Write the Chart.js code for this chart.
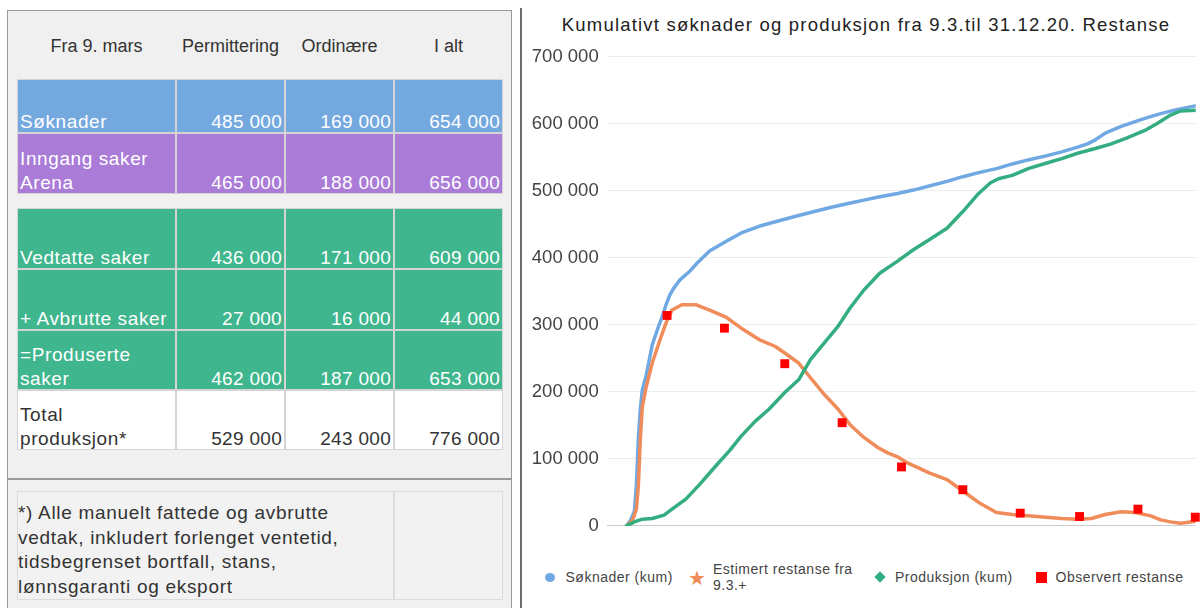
<!DOCTYPE html>
<html>
<head>
<meta charset="utf-8">
<script src="https://cdn.jsdelivr.net/npm/chart.js@4.4.0/dist/chart.umd.min.js"></script>
<style>
    html, body { margin: 0; padding: 0; width: 1202px; height: 608px; overflow: hidden; background: #fff; }
    body { position: relative; font-family: "Liberation Sans", Arial, sans-serif; }
    .abs { position: absolute; }
    #panel { left: 7px; top: 10px; width: 505px; height: 620px; box-sizing: border-box; background: #f0f0f0; border: 1.5px solid #9a9a9a; }
    #panelRule { left: 7px; top: 478px; width: 505px; height: 2px; background: #9a9a9a; }
    #divider { left: 520px; top: 8px; width: 2px; height: 600px; background: #6e6e6e; z-index: 5; }
    .cell { position: absolute; box-sizing: border-box; border: 1px solid #d4d4d4; overflow: visible; }
    .txt { position: absolute; font-size: 19px; line-height: 24px; white-space: nowrap; }
    .lbl { left: 2px; bottom: -2px; letter-spacing: 0.6px; }
    .num { right: 2px; bottom: -2px; letter-spacing: 0.3px; text-align: right; }
    .head { position: absolute; top: 35.5px; font-size: 18px; line-height: 20px; color: #333; text-align: center; white-space: nowrap; }
    #note { left: 18px; top: 501px; font-size: 19px; line-height: 24.5px; letter-spacing: 0.7px; color: #333; white-space: nowrap; }
    #title { left: 520px; top: 14.3px; width: 692px; text-align: center; font-size: 18.5px; line-height: 22px; letter-spacing: 1.2px; color: #222; white-space: nowrap; }
    #chartBox { left: 520px; top: 0; width: 682px; height: 545px; }
    .leg { position: absolute; font-size: 14px; line-height: 16px; letter-spacing: 0.5px; color: #444; white-space: nowrap; }
</style>
</head>
<body>

<div id="panel" class="abs"></div>
<div id="panelRule" class="abs"></div>
<div id="tableBox" class="abs" style="left:0;top:0;"></div>
<div id="note" class="abs">*) Alle manuelt fattede og avbrutte<br>vedtak, inkludert forlenget ventetid,<br>tidsbegrenset bortfall, stans,<br>lønnsgaranti og eksport</div>

<div id="divider" class="abs"></div>
<div id="title" class="abs">Kumulativt søknader og produksjon fra 9.3.til 31.12.20. Restanse</div>
<div id="chartBox" class="abs"><canvas id="restanseChart" width="682" height="545"></canvas></div>

<!-- legend -->
<div class="abs" style="left:545px;top:572.5px;width:10px;height:9px;border-radius:50%;background:#6fa8e2;"></div>
<div class="leg" style="left:565.5px;top:569px;">Søknader (kum)</div>
<div class="leg" style="left:685px;top:566px;width:24px;height:24px;line-height:24px;text-align:center;font-size:20px;letter-spacing:0;color:#f08c5a;">★</div>
<div class="leg" style="left:713px;top:561px;">Estimert restanse fra<br>9.3.+</div>
<div class="abs" style="left:876px;top:573px;width:8px;height:8px;background:#34ae80;transform:rotate(45deg);"></div>
<div class="leg" style="left:895px;top:569px;">Produksjon (kum)</div>
<div class="abs" style="left:1035.5px;top:571.5px;width:11px;height:11px;background:#ff0000;"></div>
<div class="leg" style="left:1055.5px;top:569px;">Observert restanse</div>

<script>
// --- Data (values in thousands, x = days after 9 March) ---
const soknaderDays = [0, 2, 4, 5, 6, 7, 8, 10, 13, 16, 18, 20, 22, 24, 27, 32, 36, 42, 50, 58, 67, 78, 87, 95, 103, 112, 120, 128, 137, 145, 153, 162, 170, 178, 187, 195, 203, 212, 220, 228, 233, 237, 242, 250, 256, 262, 270, 278, 288];
const soknaderK = [0, 8, 22, 60, 130, 175, 203, 225, 270, 296, 312, 330, 345, 355, 367, 380, 393, 410, 424, 437, 447, 456, 463, 469, 475, 481, 486, 491, 496, 501, 507, 514, 521, 527, 533, 540, 546, 552, 558, 565, 570, 576, 586, 596, 602, 608, 615, 621, 627];

const estimertDays = [0, 3, 5, 6, 7, 8, 10, 13, 17, 20, 23, 28, 35, 42, 50, 58, 67, 75, 80, 87, 93, 100, 107, 113, 120, 127, 132, 137, 142, 153, 162, 170, 178, 187, 195, 203, 212, 220, 228, 235, 242, 250, 257, 265, 270, 275, 280, 288];
const estimertK = [0, 8, 25, 60, 130, 178, 208, 243, 278, 303, 322, 330, 330, 322, 312, 295, 278, 268, 258, 243, 221, 196, 174, 151, 132, 117, 109, 103, 94, 79, 69, 52, 35, 20, 17, 15, 13, 11, 10, 11, 17, 21, 20, 15, 9, 6, 4, 7];

const produksjonDays = [0, 4, 8, 13, 19, 23, 30, 37, 45, 52, 58, 65, 72, 80, 87, 93, 100, 107, 113, 120, 128, 137, 145, 153, 162, 170, 178, 184, 188, 195, 203, 212, 220, 228, 237, 245, 253, 262, 268, 275, 280, 288];
const produksjonK = [0, 6, 10, 11, 16, 25, 40, 62, 89, 112, 134, 156, 174, 199, 218, 248, 273, 298, 325, 352, 377, 395, 412, 427, 444, 469, 496, 512, 518, 523, 533, 541, 548, 556, 563, 570, 579, 590, 600, 613, 619, 620];

const observertDays = [20.5, 49.5, 80, 109, 139, 170, 199, 229, 258.5, 287.5];
const observertK = [314, 295, 242, 154, 88, 54, 19, 14, 25, 13];

const yTicks = [0, 100000, 200000, 300000, 400000, 500000, 600000, 700000];

// --- Table (left panel) ---
const colX = [17, 176, 285, 394, 503];
const tableRows = [
    { top: 79, bottom: 133, bg: '#74a9e0', fg: '#fff', label: ['Søknader'], values: ['485 000', '169 000', '654 000'] },
    { top: 133, bottom: 194, bg: '#aa7cd7', fg: '#fff', label: ['Inngang saker', 'Arena'], values: ['465 000', '188 000', '656 000'] },
    { top: 208, bottom: 269, bg: '#3fb68e', fg: '#fff', label: ['Vedtatte saker'], values: ['436 000', '171 000', '609 000'] },
    { top: 269, bottom: 330, bg: '#3fb68e', fg: '#fff', label: ['+ Avbrutte saker'], values: ['27 000', '16 000', '44 000'] },
    { top: 330, bottom: 390, bg: '#3fb68e', fg: '#fff', label: ['=Produserte', 'saker'], values: ['462 000', '187 000', '653 000'] },
    { top: 390, bottom: 450, bg: '#ffffff', fg: '#333', label: ['Total', 'produksjon*'], values: ['529 000', '243 000', '776 000'] }
];
const headers = ['Fra 9. mars', 'Permittering', 'Ordinære', 'I alt'];

function buildTable() {
    const box = document.getElementById('tableBox');
    headers.forEach(function (h, i) {
        const d = document.createElement('div');
        d.className = 'head';
        d.style.left = colX[i] + 'px';
        d.style.width = (colX[i + 1] - colX[i]) + 'px';
        d.textContent = h;
        box.appendChild(d);
    });
    tableRows.forEach(function (row) {
        for (let i = 0; i < 4; i++) {
            const c = document.createElement('div');
            c.className = 'cell';
            c.style.left = colX[i] + 'px';
            c.style.top = row.top + 'px';
            c.style.width = (colX[i + 1] - colX[i]) + 'px';
            c.style.height = (row.bottom - row.top) + 'px';
            c.style.background = row.bg;
            const t = document.createElement('div');
            t.className = 'txt ' + (i === 0 ? 'lbl' : 'num');
            t.style.color = row.fg;
            t.innerHTML = i === 0 ? row.label.join('<br>') : row.values[i - 1];
            c.appendChild(t);
            box.appendChild(c);
        }
    });
    // footnote cells
    [[17, 394], [394, 503]].forEach(function (span) {
        const c = document.createElement('div');
        c.className = 'cell';
        c.style.left = span[0] + 'px';
        c.style.top = '491px';
        c.style.width = (span[1] - span[0]) + 'px';
        c.style.height = '109px';
        c.style.background = '#f2f2f2';
        c.style.borderColor = '#dcdcdc';
        box.appendChild(c);
    });
}
buildTable();

// --- Chart ---
function toPoints(days, valuesK) {
    return days.map(function (d, i) { return { x: d, y: valuesK[i] * 1000 }; });
}

function formatThousands(v) {
    return String(v).replace(/\B(?=(\d{3})+(?!\d))/g, ' ');
}

const lineStyle = { borderWidth: 3.5, pointRadius: 0, tension: 0, borderJoinStyle: 'round', borderCapStyle: 'round', fill: false };

const ctx = document.getElementById('restanseChart').getContext('2d');
const chart = new Chart(ctx, {
    type: 'line',
    data: {
        datasets: [
            Object.assign({ label: 'Søknader (kum)', data: toPoints(soknaderDays, soknaderK), borderColor: '#6fa8e2', order: 3 }, lineStyle),
            Object.assign({ label: 'Estimert restanse fra 9.3.+', data: toPoints(estimertDays, estimertK), borderColor: '#f08c5a', order: 2 }, lineStyle),
            Object.assign({ label: 'Produksjon (kum)', data: toPoints(produksjonDays, produksjonK), borderColor: '#34ae80', order: 1 }, lineStyle),
            {
                label: 'Observert restanse',
                data: toPoints(observertDays, observertK),
                showLine: false,
                pointStyle: 'rect',
                pointRadius: 6.3,
                pointBorderWidth: 0,
                pointBackgroundColor: '#ff0000',
                borderColor: '#ff0000',
                backgroundColor: '#ff0000',
                clip: false,
                order: 0
            }
        ]
    },
    options: {
        responsive: false,
        animation: false,
        layout: { padding: { top: 56.7, bottom: 18.3, left: 0, right: 0 } },
        plugins: {
            legend: { display: false },
            title: { display: false },
            tooltip: { enabled: false }
        },
        scales: {
            x: { type: 'linear', min: -10, max: 287.7, display: false },
            y: {
                min: 0,
                max: 700000,
                afterFit: function (scale) { scale.width = 86.7; },
                afterBuildTicks: function (scale) { scale.ticks = yTicks.map(function (v) { return { value: v }; }); },
                border: { display: false },
                grid: {
                    drawTicks: false,
                    lineWidth: 1,
                    color: function (c) { return c.tick && c.tick.value === 0 ? '#cccccc' : '#ececec'; }
                },
                ticks: {
                    padding: 8,
                    color: '#444',
                    font: { family: '"Liberation Sans", Arial, sans-serif', size: 18.5 },
                    callback: function (value) { return formatThousands(value); }
                }
            }
        }
    }
});
</script>
</body>
</html>
